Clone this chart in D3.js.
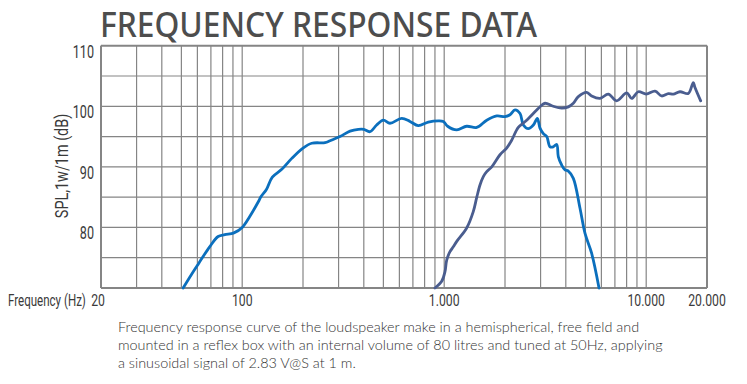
<!DOCTYPE html>
<html>
<head>
<meta charset="utf-8">
<script src="https://cdn.jsdelivr.net/npm/d3@7"></script>
<style>
  html, body { margin: 0; padding: 0; background: #fff; }
  svg { display: block; }
</style>
</head>
<body>
<svg id="chart" width="747" height="384"></svg>
<script>
// ---- data ----
const wooferFreq = [51, 56, 61, 69, 76, 82, 91, 100, 109, 120, 124, 132, 141, 157, 176, 200, 221, 257, 272, 305, 342, 376, 400, 429, 463, 500, 539, 616, 677, 744, 834, 935, 990, 1040, 1154, 1292, 1449, 1624, 1821, 2000, 2118, 2242, 2374, 2465, 2609, 2763, 2891, 2980, 3096, 3218, 3342, 3465, 3606, 3672, 3816, 3964, 4115, 4358, 4700, 4980, 5372, 5840];
const wooferSPL  = [70, 72.2, 74.1, 76.8, 78.5, 78.8, 79.1, 80.0, 81.8, 84.2, 85.1, 86.3, 88.3, 89.6, 91.4, 93.1, 93.9, 94.0, 94.3, 95.0, 95.9, 96.2, 96.2, 95.8, 96.9, 97.7, 97.2, 98.0, 97.5, 96.8, 97.4, 97.6, 97.5, 96.7, 96.1, 96.7, 96.5, 97.7, 98.4, 98.3, 98.6, 99.4, 98.8, 96.9, 96.3, 96.9, 98.0, 96.4, 95.5, 95.0, 93.3, 93.3, 93.7, 91.7, 90.3, 89.5, 89.3, 88.1, 83.2, 79.0, 75.7, 70.0];

const tweeterFreq = [900, 972, 1009, 1029, 1068, 1109, 1154, 1292, 1393, 1450, 1504, 1562, 1624, 1719, 1889, 2038, 2158, 2328, 2560, 2871, 3000, 3156, 3465, 3816, 4115, 4358, 4614, 5077, 5372, 5906, 6492, 7140, 8010, 8476, 9140, 10000, 11060, 11930, 12870, 13620, 14700, 16160, 17100, 17400, 18610];
const tweeterSPL  = [70, 71.1, 72.7, 74.6, 76.0, 76.8, 77.7, 79.9, 82.6, 85.0, 87.0, 88.4, 89.2, 90.0, 92.0, 93.1, 94.4, 96.5, 97.7, 99.4, 100.0, 100.5, 100.0, 99.7, 99.9, 100.5, 101.6, 102.3, 101.7, 101.3, 102.0, 100.9, 102.2, 101.3, 102.4, 102.0, 102.5, 101.7, 102.1, 102.0, 102.4, 102.1, 103.9, 103.2, 100.9];

const xTickValues = [20, 100, 1000, 10000, 20000];
const xTickLabels = ["20", "100", "1.000", "10.000", "20.000"];
const yTickValues = [80, 90, 100, 110];
const xGridValues = [20,30,40,50,60,70,80,90,100,200,300,400,500,600,700,800,900,1000,2000,3000,4000,5000,6000,7000,8000,9000,10000,20000];
const yGridValues = [70,75,80,85,90,95,100,105,110];

const titleText = "FREQUENCY RESPONSE DATA";
const yAxisTitle = "SPL,1w/1m (dB)";
const xAxisTitle = "Frequency (Hz)";
const captionLines = [
  "Frequency response curve of the loudspeaker make in a hemispherical, free field and",
  "mounted in a reflex box with an internal volume of 80 litres and tuned at 50Hz, applying",
  "a sinusoidal signal of 2.83 V@S at 1 m."
];

// ---- drawing ----
const svg = d3.select("#chart");
const plot = {left: 101, right: 707, top: 45.7, bottom: 288};
const x = d3.scaleLog().domain([20, 20000]).range([plot.left, plot.right]);
const y = d3.scaleLinear().domain([70, 110]).range([plot.bottom, plot.top]);

const axisFont = "Roboto, 'DejaVu Sans', sans-serif";
const gridColor = "#858585";
const labelColor = "#3a3a3a";
const squeeze = 0.72;

// title
svg.append("text")
  .attr("x", 100).attr("y", 37)
  .attr("font-family", "'Noto Sans', 'DejaVu Sans', sans-serif")
  .attr("font-weight", 500)
  .attr("font-size", 34)
  .attr("fill", "#4d4d4d")
  .attr("textLength", 437)
  .attr("lengthAdjust", "spacingAndGlyphs")
  .text(titleText);

// grid
const g = svg.append("g");
g.selectAll("line.vg").data(xGridValues).enter().append("line")
  .attr("class", "vg")
  .attr("x1", d => x(d)).attr("x2", d => x(d))
  .attr("y1", y(110)).attr("y2", y(70))
  .attr("stroke", gridColor).attr("stroke-width", 1.2);
g.selectAll("line.hg").data(yGridValues).enter().append("line")
  .attr("class", "hg")
  .attr("x1", x(20)).attr("x2", x(20000))
  .attr("y1", d => y(d)).attr("y2", d => y(d))
  .attr("stroke", gridColor)
  .attr("stroke-width", d => (d === 110 || d === 70) ? 2 : 1.2);
g.selectAll("line.bd").data([20, 20000]).enter().append("line")
  .attr("x1", d => x(d)).attr("x2", d => x(d))
  .attr("y1", y(110)).attr("y2", y(70))
  .attr("stroke", gridColor).attr("stroke-width", 2);

// curves
const line = d3.line().x(d => x(d[0])).y(d => y(d[1])).curve(d3.curveCatmullRom.alpha(0.5));
const woofer = wooferFreq.map((f, i) => [f, wooferSPL[i]]);
const tweeter = tweeterFreq.map((f, i) => [f, tweeterSPL[i]]);

svg.append("path").datum(woofer)
  .attr("d", line).attr("fill", "none")
  .attr("stroke", "#0b6fbd").attr("stroke-width", 2.8)
  .attr("stroke-linejoin", "round").attr("stroke-linecap", "round");
svg.append("path").datum(tweeter)
  .attr("d", line).attr("fill", "none")
  .attr("stroke", "#4a5d8f").attr("stroke-width", 2.8)
  .attr("stroke-linejoin", "round").attr("stroke-linecap", "round");

// y tick labels (condensed by horizontal scaling)
svg.selectAll("g.yt").data(yTickValues).enter().append("g")
  .attr("class", "yt")
  .attr("transform", d => `translate(94,${y(d) + 12}) scale(0.7,1)`)
  .append("text")
  .attr("text-anchor", "end")
  .attr("font-family", axisFont).attr("font-size", 18)
  .attr("fill", labelColor)
  .text(d => d);

// y axis title
svg.append("g")
  .attr("transform", "translate(68,166) rotate(-90) scale(0.8,1)")
  .append("text")
  .attr("text-anchor", "middle")
  .attr("font-family", axisFont).attr("font-size", 18)
  .attr("fill", labelColor)
  .text(yAxisTitle);

// x tick labels
svg.selectAll("g.xt").data(xTickValues).enter().append("g")
  .attr("class", "xt")
  .attr("transform", d => `translate(${x(d) + (d === 20 ? -3 : 0)},306) scale(${squeeze},1)`)
  .append("text")
  .attr("text-anchor", "middle")
  .attr("font-family", axisFont).attr("font-size", 17)
  .attr("fill", labelColor)
  .text((d, i) => xTickLabels[i]);

svg.append("g")
  .attr("transform", `translate(8,306) scale(0.68,1)`)
  .append("text")
  .attr("font-family", axisFont).attr("font-size", 17)
  .attr("fill", labelColor)
  .text(xAxisTitle);

// caption
svg.selectAll("text.cap").data(captionLines).enter().append("text")
  .attr("class", "cap")
  .attr("x", 118).attr("y", (d, i) => 332 + i * 18)
  .attr("font-family", "Lato, 'Open Sans', sans-serif")
  .attr("font-weight", 300)
  .attr("font-size", 14.4)
  .attr("fill", "#333")
  .text(d => d);
</script>
</body>
</html>
